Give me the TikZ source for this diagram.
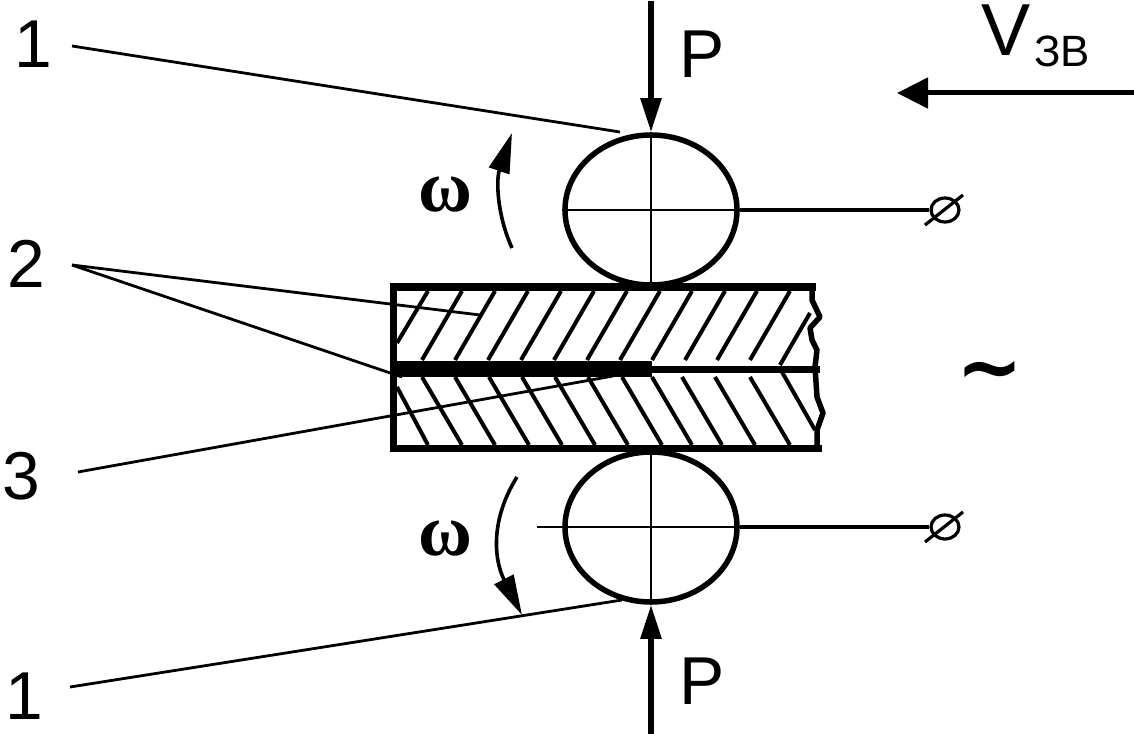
\documentclass[tikz,border=0pt]{standalone}
\usepackage{fontspec}
\setmainfont{Liberation Sans}
\newfontfamily\omegafont{Liberation Serif}
\newfontfamily\symbolfont{DejaVu Sans}
\usetikzlibrary{arrows.meta,shapes.geometric}
\tikzset{
  x=1bp,y=-1bp,
  roller/.style={draw,ellipse,line width=5.5bp,inner sep=0pt,minimum width=172bp,minimum height=150bp},
  term/.style={draw,ellipse,line width=3.2bp,inner sep=0pt,minimum width=28bp,minimum height=24bp},
  bigtxt/.style={inner sep=0pt,font=\fontsize{68}{68}\selectfont},
  omegatxt/.style={inner sep=0pt,font=\omegafont\bfseries\fontsize{74}{74}\selectfont},
  leader/.style={line width=2.8bp},
  centre/.style={line width=2.6bp},
  wire/.style={line width=4.5bp},
  hatchline/.style={line width=4bp},
  wall/.style={line width=7.5bp},
  force/.style={line width=5.5bp,-{Triangle[length=34bp,width=20bp]}},
  speed/.style={line width=5bp,-{Triangle[length=31bp,width=30bp]}},
  spin/.style={line width=3.6bp,-{Triangle[length=40bp,width=21bp]}},
}
\begin{document}
\begin{tikzpicture}
\useasboundingbox (0,0) rectangle (1134,734);
% rollers
\node[roller] (rt) at (651,210) {};
\node[roller] (rb) at (651,527) {};
% hatching
\foreach \xa in {462,495,528,561,594,627,660,692,725,757,790}
  \draw[hatchline] (\xa,291) -- ({\xa-40},360);
\draw[hatchline] (428,291) -- (397,343);
\draw[hatchline] (810,313) -- (780,365);
\foreach \xa in {422,455,489,522,555,588,622,652,682,715,750}
  \draw[hatchline] (\xa,377) -- ({\xa+40},445);
\draw[hatchline] (397,387) -- (428,445);
\draw[hatchline] (782,372) -- (815,430);
% plate
\coordinate (pl) at (393.5,287);
\coordinate (pr) at (812,287);
\coordinate (ql) at (393.5,448.5);
\coordinate (qr) at (818,448.5);
\draw[wall,line cap=rect] (pr) -- (pl) -- (ql) -- (qr);
\coordinate (ml) at (395,369);
\coordinate (mm) at (652,369);
\coordinate (mr) at (820,369);
\draw[line width=16bp] (ml) -- (mm);
\draw[line width=7bp] (mm) -- (mr);
\draw[line width=5.5bp,line join=round] (812,287) -- (812,300) -- (820,317) -- (810,328) -- (812,340) -- (817,350) -- (815,367) -- (817,397) -- (823,413) -- (817,430) -- (817,449);
% centre lines
\draw[centre] (rt.north) -- (651,285);
\draw[centre] (rb.north) -- (rb.south);
\draw[centre] (rt.west) -- (rt.east);
\coordinate (cb) at (537,527);
\draw[centre] (cb) -- (rb.east);
% forces
\coordinate (ft) at (651,1);
\coordinate (fb) at (651,734);
\draw[force] (ft) -- (rt.north);
\draw[force] (fb) -- (rb.south);
% terminals
\node[term] (t1) at (945,210) {};
\node[term] (t2) at (945,527) {};
\draw[wire] (rt.east) -- (t1.west);
\draw[wire] (rb.east) -- (t2.west);
\coordinate (s1a) at (925,225); \coordinate (s1b) at (963,195);
\coordinate (s2a) at (925,542); \coordinate (s2b) at (963,512);
\draw[line width=3.2bp] (s1a) -- (s1b);
\draw[line width=3.2bp] (s2a) -- (s2b);
% labels
\node[bigtxt] (n1a) at (33,44) {1};
\node[bigtxt] (n2) at (26,264) {2};
\node[bigtxt] (n3) at (21,476) {3};
\node[bigtxt] (n1b) at (24,696) {1};
\node[bigtxt] (pa) at (702,54) {P};
\node[bigtxt] (pb) at (702,681) {P};
\node[inner sep=0pt,anchor=base west,font=\fontsize{74}{74}\selectfont] (v) at (981,56) {V};
\node[inner sep=0pt,anchor=base west,font=\fontsize{44}{44}\selectfont] (vs) at (1034,67) {ЗВ};
\node[omegatxt] (w1) at (445,195) {ω};
\node[omegatxt] (w2) at (445,539) {ω};
\node[inner sep=0pt,font=\symbolfont\bfseries\fontsize{80}{80}\selectfont] (tilde) at (990,378) {∼};
% leaders
\coordinate (l1a) at (72,46);  \coordinate (l1ae) at (620,132);
\coordinate (l2) at (72,265);  \coordinate (l2e1) at (480,315); \coordinate (l2e2) at (402,377);
\coordinate (l3) at (78,472);  \coordinate (l3e) at (613,376);
\coordinate (l1b) at (70,687); \coordinate (l1be) at (622,600);
\draw[leader] (l1a) -- (l1ae);
\draw[leader] (l2) -- (l2e1);
\draw[leader] (l2) -- (l2e2);
\draw[leader] (l3) -- (l3e);
\draw[leader] (l1b) -- (l1be);
% velocity
\coordinate (vs1) at (1134,93); \coordinate (ve1) at (897,93);
\draw[speed] (vs1) -- (ve1);
% rotation
\coordinate (a1) at (512,248); \coordinate (a1e) at (512,133);
\coordinate (a2) at (517,477); \coordinate (a2e) at (522,615);
\draw[spin] (a1) .. controls (497,215) and (496,180) .. (a1e);
\draw[spin] (a2) .. controls (490,520) and (494,560) .. (a2e);
\end{tikzpicture}
\end{document}
